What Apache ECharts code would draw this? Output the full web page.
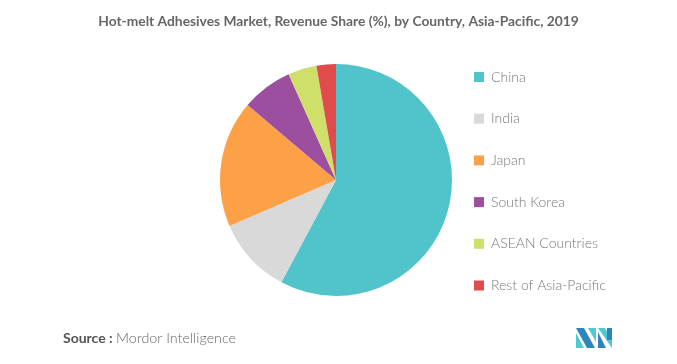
<!DOCTYPE html>
<html>
<head>
<meta charset="utf-8">
<script src="https://cdn.jsdelivr.net/npm/echarts@6/dist/echarts.min.js"></script>
<style>
html,body{margin:0;padding:0;background:#fff;}
#chart{width:677px;height:364px;}
</style>
</head>
<body>
<div id="chart"></div>
<script>
var categories = ["China", "India", "Japan", "South Korea", "ASEAN Countries", "Rest of Asia-Pacific"];
var shares = [57.8, 10.7, 17.7, 7.1, 4.0, 2.7];
var colors = ["#50c4ca", "#d9d9d9", "#fda148", "#9b4f9e", "#cfe06a", "#e04b4b"];
var titleText = "Hot-melt Adhesives Market, Revenue Share (%), by Country, Asia-Pacific, 2019";

var chart = echarts.init(document.getElementById('chart'), null, {renderer: 'canvas'});
var data = categories.map(function (c, i) {
  return {name: c, value: shares[i], itemStyle: {color: colors[i]}};
});
chart.setOption({
  animation: false,
  backgroundColor: '#fff',
  title: {
    text: titleText,
    left: 'center',
    top: 10,
    textStyle: {fontFamily: 'Lato', fontSize: 13.8, fontWeight: 'bold', color: '#666'}
  },
  legend: {
    orient: 'vertical',
    left: 469,
    top: 65,
    itemWidth: 10,
    itemHeight: 10,
    itemGap: 27.7,
    icon: 'rect',
    data: categories,
    textStyle: {fontFamily: 'Lato', fontSize: 14, fontWeight: 300, color: '#777', padding: [0, 0, 0, 2]}
  },
  series: [{
    type: 'pie',
    center: [336, 180],
    radius: [0, 116],
    startAngle: 90,
    clockwise: true,
    label: {show: false},
    labelLine: {show: false},
    itemStyle: {borderWidth: 0},
    emphasis: {disabled: true},
    data: data
  }],
  graphic: [
    {
      type: 'text', left: 63, top: 331,
      style: {
        text: '{b|Source :} {n|Mordor Intelligence}',
        rich: {
          b: {fontFamily: 'Lato', fontSize: 14, fontWeight: 'bold', fill: '#555'},
          n: {fontFamily: 'Lato', fontSize: 14.3, fontWeight: 300, fill: '#666'}
        }
      }
    },
    {
      type: 'group', left: 576, top: 328,
      children: [
        {type: 'polygon', shape: {points: [[0,0],[8,0],[19,20],[11,20]]}, style: {fill: '#2f84bd'}},
        {type: 'polygon', shape: {points: [[0,5],[0,20],[8,20]]}, style: {fill: '#4fc9d2'}},
        {type: 'polygon', shape: {points: [[12,0],[20,0],[20,14]]}, style: {fill: '#4fc9d2'}},
        {type: 'polygon', shape: {points: [[22,0],[29,0],[36,12],[36,20]]}, style: {fill: '#4fc9d2'}},
        {type: 'polygon', shape: {points: [[22,4],[22,20],[30,20]]}, style: {fill: '#2f84bd'}},
        {type: 'rect', shape: {x: 31, y: 0, width: 5, height: 12}, style: {fill: '#2f84bd'}}
      ]
    }
  ]
});
</script>
</body>
</html>
